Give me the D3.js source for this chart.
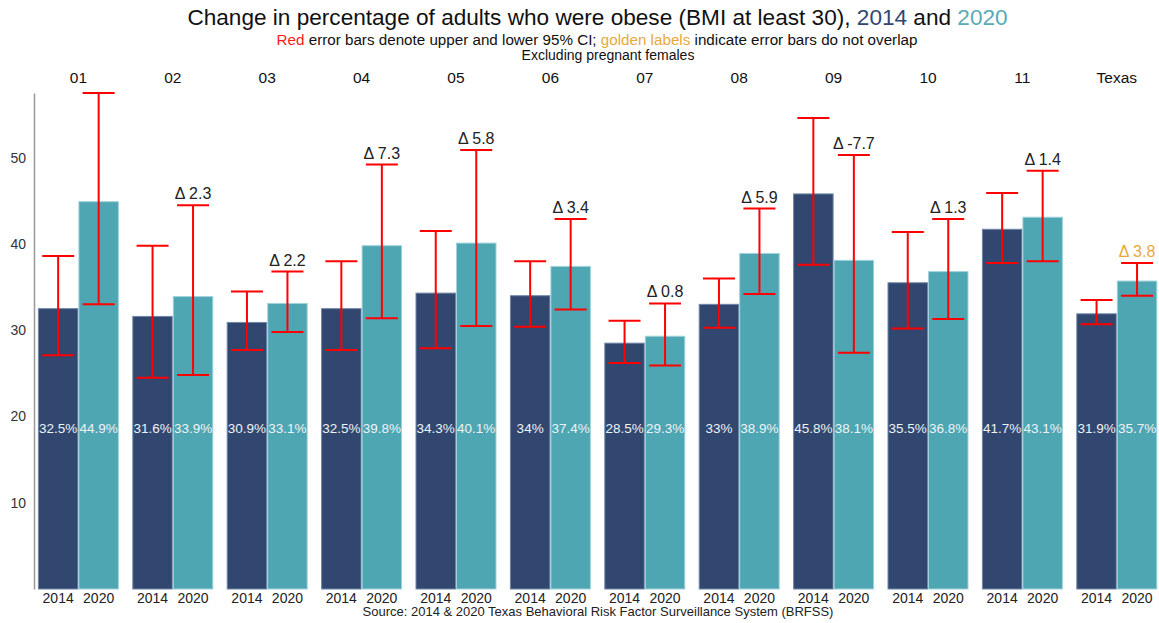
<!DOCTYPE html>
<html>
<head>
<meta charset="utf-8">
<script src="https://cdn.jsdelivr.net/npm/d3@7"></script>
<style>
  html, body { margin: 0; padding: 0; background: #fff; }
  svg { display: block; font-family: "Liberation Sans", Arial, sans-serif; }
</style>
</head>
<body>
<svg id="chart" width="1159" height="623"></svg>
<script>
// Public health regions plus the statewide total
const regions = ["01", "02", "03", "04", "05", "06", "07", "08", "09", "10", "11", "Texas"];
const years = ["2014", "2020"];

// Percent of adults with BMI >= 30
const pct2014 = [32.5, 31.6, 30.9, 32.5, 34.3, 34.0, 28.5, 33.0, 45.8, 35.5, 41.7, 31.9];
const pct2020 = [44.9, 33.9, 33.1, 39.8, 40.1, 37.4, 29.3, 38.9, 38.1, 36.8, 43.1, 35.7];

// 95% confidence intervals
const lower2014 = [27.1, 24.5, 27.7, 27.7, 27.9, 30.4, 26.2, 30.3, 37.6, 30.2, 37.8, 30.7];
const upper2014 = [38.6, 39.8, 34.5, 38.0, 41.5, 38.0, 31.1, 36.0, 54.6, 41.4, 45.9, 33.5];
const lower2020 = [33.0, 24.8, 29.8, 31.4, 30.5, 32.4, 25.9, 34.2, 27.4, 31.3, 38.0, 34.0];
const upper2020 = [57.5, 44.5, 36.8, 49.2, 50.9, 42.9, 33.1, 44.1, 50.3, 42.9, 48.5, 37.8];

const yTicks = [10, 20, 30, 40, 50];

const colors = { "2014": "#31476f", "2020": "#4fa6b3" };
const edge = { "2014": "#6f86a8", "2020": "#9fd3da" };

const rows = regions.map((r, i) => ({
  region: r,
  bars: [
    { year: "2014", value: pct2014[i], lo: lower2014[i], hi: upper2014[i] },
    { year: "2020", value: pct2020[i], lo: lower2020[i], hi: upper2020[i] }
  ]
}));

const svg = d3.select("#chart");
const W = 1159;

const y = d3.scaleLinear().domain([0, 57.5]).range([589, 93]);
const fx = d3.scaleBand().domain(regions).range([37.9, 1157.3]).paddingInner(0.142).paddingOuter(0);
const x = d3.scaleBand().domain(years).range([0, fx.bandwidth()]).padding(0);

// Titles
const title = svg.append("text").attr("x", 597.5).attr("y", 25)
  .attr("text-anchor", "middle").attr("font-size", 22.6).attr("fill", "#111");
title.append("tspan").text("Change in percentage of adults who were obese (BMI at least 30), ");
title.append("tspan").attr("fill", colors["2014"]).text("2014");
title.append("tspan").text(" and ");
title.append("tspan").attr("fill", "#5aaab6").text("2020");

const sub = svg.append("text").attr("x", 597).attr("y", 45)
  .attr("text-anchor", "middle").attr("font-size", 15.2).attr("fill", "#111");
sub.append("tspan").attr("fill", "#ff1a1a").text("Red");
sub.append("tspan").text(" error bars denote upper and lower 95% CI; ");
sub.append("tspan").attr("fill", "#e8a93c").text("golden labels");
sub.append("tspan").text(" indicate error bars do not overlap");

svg.append("text").attr("x", 608).attr("y", 60)
  .attr("text-anchor", "middle").attr("font-size", 14).attr("fill", "#111")
  .text("Excluding pregnant females");

// Y axis
const yAxis = d3.axisLeft(y).tickValues(yTicks).tickSize(0).tickPadding(8);
const gy = svg.append("g").attr("transform", "translate(34,0)").call(yAxis);
gy.select(".domain").attr("stroke", "#999").attr("stroke-width", 1.5);
gy.selectAll("text").attr("font-size", 14).attr("fill", "#333")
  .attr("font-family", "Liberation Sans, Arial, sans-serif");

const facets = svg.append("g")
  .selectAll("g.facet").data(rows).join("g")
  .attr("class", "facet")
  .attr("transform", d => `translate(${fx(d.region)},0)`);

// Facet headers
svg.selectAll("text.facet-label").data(regions).join("text")
  .attr("class", "facet-label")
  .attr("x", d => fx(d) + fx.bandwidth() / 2)
  .attr("y", 83)
  .attr("text-anchor", "middle").attr("font-size", 15.5).attr("fill", "#111")
  .text(d => d);

// Bars
facets.selectAll("rect.bar").data(d => d.bars).join("rect")
  .attr("class", "bar")
  .attr("x", d => x(d.year) + 0.5)
  .attr("width", x.bandwidth() - 1)
  .attr("y", d => y(d.value))
  .attr("height", d => y(0) - y(d.value))
  .attr("fill", d => colors[d.year])
  .attr("stroke", d => edge[d.year])
  .attr("stroke-width", 1);

// Value labels inside bars
facets.selectAll("text.val").data(d => d.bars).join("text")
  .attr("class", "val")
  .attr("x", d => x(d.year) + x.bandwidth() / 2)
  .attr("y", y(18.7) + 5)
  .attr("text-anchor", "middle").attr("font-size", 13.5).attr("fill", "#eef3f6")
  .text(d => `${d3.format("~f")(d.value)}%`);

// Error bars
const capW = 32;
const eb = facets.selectAll("g.err").data(d => d.bars).join("g")
  .attr("class", "err")
  .attr("stroke", "#ff0000").attr("stroke-width", 2);
eb.append("line")
  .attr("x1", d => x(d.year) + x.bandwidth() / 2).attr("x2", d => x(d.year) + x.bandwidth() / 2)
  .attr("y1", d => y(d.lo)).attr("y2", d => y(d.hi));
eb.append("line")
  .attr("x1", d => x(d.year) + x.bandwidth() / 2 - capW / 2).attr("x2", d => x(d.year) + x.bandwidth() / 2 + capW / 2)
  .attr("y1", d => y(d.hi)).attr("y2", d => y(d.hi));
eb.append("line")
  .attr("x1", d => x(d.year) + x.bandwidth() / 2 - capW / 2).attr("x2", d => x(d.year) + x.bandwidth() / 2 + capW / 2)
  .attr("y1", d => y(d.lo)).attr("y2", d => y(d.lo));

// Change labels above the 2020 error bar (only where it fits inside the plot);
// golden when the two intervals do not overlap
facets.filter(d => d.bars[1].hi < y.domain()[1])
  .append("text")
  .attr("class", "delta")
  .attr("x", x("2020") + x.bandwidth() / 2)
  .attr("y", d => y(d.bars[1].hi) - 6)
  .attr("text-anchor", "middle").attr("font-size", 16)
  .attr("fill", d => {
    const a = d.bars[0], b = d.bars[1];
    return (b.lo > a.hi || b.hi < a.lo) ? "#e8a93c" : "#222";
  })
  .text(d => `Δ ${(d.bars[1].value - d.bars[0].value).toFixed(1)}`);

// Year labels under each bar
const yrLabels = svg.append("g").selectAll("g").data(rows).join("g")
  .attr("transform", d => `translate(${fx(d.region)},0)`);
yrLabels.selectAll("text").data(years).join("text")
  .attr("x", d => x(d) + x.bandwidth() / 2)
  .attr("y", 603)
  .attr("text-anchor", "middle").attr("font-size", 14).attr("fill", "#222")
  .text(d => d);

// Source note
svg.append("text").attr("x", 598).attr("y", 616)
  .attr("text-anchor", "middle").attr("font-size", 13).attr("fill", "#222")
  .text("Source: 2014 & 2020 Texas Behavioral Risk Factor Surveillance System (BRFSS)");
</script>
</body>
</html>
